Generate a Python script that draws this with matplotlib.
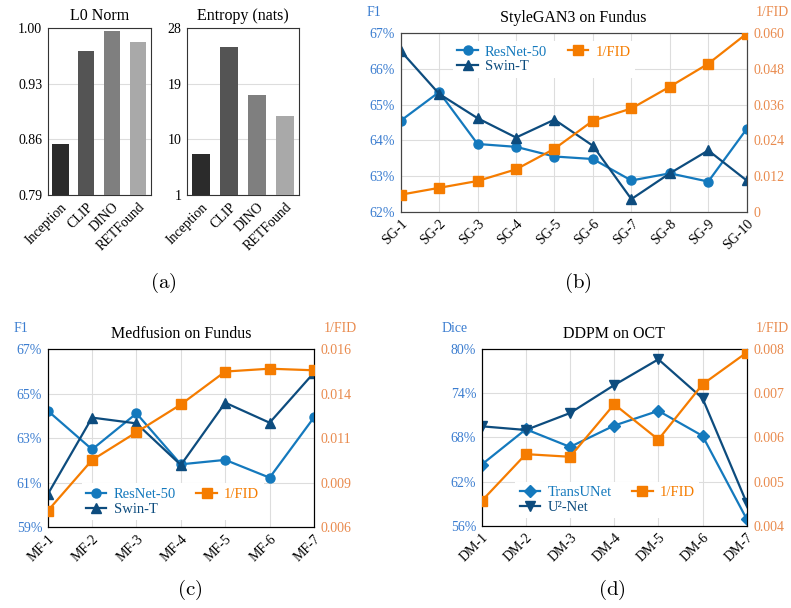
import numpy as np
import matplotlib
matplotlib.use("Agg")
import matplotlib.pyplot as plt

plt.rcParams['font.family'] = 'serif'
plt.rcParams['font.serif'] = ['Liberation Serif', 'DejaVu Serif']
plt.rcParams['mathtext.fontset'] = 'cm'

# ---- dados ----
enc_names = ["Inception", "CLIP", "DINO", "RETFound"]
l0_norm = [0.854, 0.971, 0.997, 0.983]
entropy = [7.6, 25.0, 17.2, 13.8]
l0_ticks = [0.79, 0.86, 0.93, 1.00]
ent_ticks = [1, 10, 19, 28]

sg_names = ["SG-1", "SG-2", "SG-3", "SG-4", "SG-5", "SG-6", "SG-7", "SG-8", "SG-9", "SG-10"]
sg_resnet = [64.55, 65.35, 63.90, 63.82, 63.55, 63.48, 62.88, 63.08, 62.85, 64.32]
sg_swin = [66.50, 65.30, 64.62, 64.08, 64.58, 63.85, 62.36, 63.08, 63.72, 62.88]
sg_fid = [0.0058, 0.0081, 0.0104, 0.0143, 0.0212, 0.0306, 0.0347, 0.0420, 0.0497, 0.0598]
sg_f1_ticks = [62, 63, 64, 65, 66, 67]
sg_fid_ticks = [0, 0.012, 0.024, 0.036, 0.048, 0.060]
sg_fid_labels = ["0", "0.012", "0.024", "0.036", "0.048", "0.060"]

mf_names = ["MF-1", "MF-2", "MF-3", "MF-4", "MF-5", "MF-6", "MF-7"]
mf_resnet = [64.24, 62.50, 64.12, 61.83, 62.03, 61.23, 63.94]
mf_swin = [60.48, 63.93, 63.67, 61.80, 64.60, 63.70, 65.95]
mf_fid = [0.00692, 0.00978, 0.01134, 0.0129, 0.01475, 0.01491, 0.01482]
mf_f1_ticks = [59, 61, 63, 65, 67]
mf_fid_ticks = [0.006, 0.0085, 0.011, 0.0135, 0.016]
mf_fid_labels = ["0.006", "0.009", "0.011", "0.014", "0.016"]

dm_names = ["DM-1", "DM-2", "DM-3", "DM-4", "DM-5", "DM-6", "DM-7"]
dm_transunet = [64.3, 69.1, 66.7, 69.6, 71.6, 68.2, 56.9]
dm_u2net = [69.5, 69.0, 71.3, 75.1, 78.6, 73.3, 59.1]
dm_fid = [0.00456, 0.00562, 0.00556, 0.00675, 0.00595, 0.0072, 0.00792]
dm_dice_ticks = [56, 62, 68, 74, 80]
dm_fid_ticks = [0.004, 0.005, 0.006, 0.007, 0.008]
dm_fid_labels = ["0.004", "0.005", "0.006", "0.007", "0.008"]

# ---- cores ----
c_blue = '#1479bd'
c_navy = '#0d4c7e'
c_orange = '#f57c00'
t_blue = '#3b7dd0'
t_orange = '#e98a4d'
bar_colors = ['#2b2b2b', '#545454', '#7f7f7f', '#a9a9a9']

W, H = 791, 608
fig = plt.figure(figsize=(W / 100, H / 100), dpi=100)


def box(x0, y0, x1, y1):
    return [x0 / W, 1 - y1 / H, (x1 - x0) / W, (y1 - y0) / H]


def bar_panel(rect, vals, ticks, fmt, title):
    ax = fig.add_axes(rect)
    x = np.arange(len(enc_names))
    ax.bar(x, vals, width=0.63, color=bar_colors, zorder=3)
    ax.set_xlim(-0.5, len(enc_names) - 0.5)
    ax.set_ylim(ticks[0], ticks[-1])
    ax.set_yticks(ticks)
    ax.set_yticklabels([fmt % t for t in ticks])
    ax.set_xticks(x)
    ax.set_xticklabels(enc_names, rotation=45, ha='right', rotation_mode='anchor')
    ax.yaxis.grid(True, color='#dddddd', lw=0.8, zorder=0)
    ax.tick_params(length=0, labelsize=10, pad=4)
    for s in ax.spines.values():
        s.set_color('#333333')
    ax.set_title(title, fontsize=11.5, pad=6)
    return ax


bar_panel(box(47.7, 28.3, 150.7, 195), l0_norm, l0_ticks, "%.2f", "L0 Norm")
bar_panel(box(187.3, 28.3, 299, 195), entropy, ent_ticks, "%d", "Entropy (nats)")


def line_panel(px, names, s1, s2, fid, lab1, lab2, m1, m2, lticks, rticks, rlabels,
               title, ylab, leg_anchor, spine_col):
    ax = fig.add_axes(box(*px))
    x = np.arange(len(names))
    l1, = ax.plot(x, s1, color=c_blue, lw=1.6, marker=m1[0], ms=m1[1], label=lab1, zorder=3)
    l2, = ax.plot(x, s2, color=c_navy, lw=1.6, marker=m2[0], ms=m2[1], label=lab2, zorder=3)
    ax.set_xlim(0, len(names) - 1)
    ax.set_ylim(lticks[0], lticks[-1])
    ax.set_yticks(lticks)
    ax.set_yticklabels(["%d%%" % t for t in lticks], color=t_blue)
    ax.set_xticks(x)
    ax.set_xticklabels(names, rotation=45, ha='right', rotation_mode='anchor')
    ax.grid(True, color='#dddddd', lw=0.8, zorder=0)
    ax.tick_params(length=0, labelsize=10, pad=4)

    ax2 = ax.twinx()
    l3, = ax2.plot(x, fid, color=c_orange, lw=1.6, marker='s', ms=6.5, label='1/FID', zorder=3)
    ax2.set_ylim(rticks[0], rticks[-1])
    ax2.set_yticks(rticks)
    ax2.set_yticklabels(rlabels, color=t_orange)
    ax2.tick_params(length=0, labelsize=10, pad=5)
    for a in (ax, ax2):
        for s in a.spines.values():
            s.set_color(spine_col)

    ax.set_title(title, fontsize=11.5, pad=8)
    # rotulos dos eixos acima dos ticks
    x0, y0, x1, y1 = px
    fig.text((x0 - 27) / W, 1 - (y0 - 21) / H, ylab, color=t_blue,
             fontsize=10, ha='center', va='center')
    fig.text((x1 + 26) / W, 1 - (y0 - 21) / H, '1/FID', color=t_orange,
             fontsize=10, ha='center', va='center')

    leg = ax2.legend([l1, l2, l3], [lab1, lab2, '1/FID'], ncol=2, loc='lower left',
                     bbox_to_anchor=leg_anchor, fontsize=10.5, handlelength=1.4,
                     handletextpad=0.5, columnspacing=1.4, labelspacing=0.1,
                     borderpad=0.3, frameon=True, fancybox=False)
    leg.get_frame().set_edgecolor('none')
    leg.get_frame().set_facecolor('white')
    leg.get_frame().set_alpha(1)
    for t, c in zip(leg.get_texts(), [c_blue, c_navy, c_orange]):
        t.set_color(c)
    return ax


line_panel((400.7, 33, 746.7, 212), sg_names, sg_resnet, sg_swin, sg_fid,
           'ResNet-50', 'Swin-T', ('o', 6.5), ('^', 7.5), sg_f1_ticks, sg_fid_ticks,
           sg_fid_labels, 'StyleGAN3 on Fundus', 'F1', (0.13, 0.71), '#444444')

line_panel((47.7, 349.3, 314, 527.3), mf_names, mf_resnet, mf_swin, mf_fid,
           'ResNet-50', 'Swin-T', ('o', 6.5), ('^', 7.5), mf_f1_ticks, mf_fid_ticks,
           mf_fid_labels, 'Medfusion on Fundus', 'F1', (0.10, 0.0), 'black')

line_panel((481.7, 349, 746.7, 525.7), dm_names, dm_transunet, dm_u2net, dm_fid,
           'TransUNet', 'U²-Net', ('D', 6), ('v', 7.5), dm_dice_ticks, dm_fid_ticks,
           dm_fid_labels, 'DDPM on OCT', 'Dice', (0.10, 0.0), 'black')

# rotulos dos paineis
for lab, x, y in [("a", 163, 283), ("b", 578, 283), ("c", 190, 590), ("d", 612, 590)]:
    fig.text(x / W, 1 - y / H, r'$(\mathrm{%s})$' % lab, fontsize=15, ha='center', va='center')

plt.savefig("out.png", dpi=100)
